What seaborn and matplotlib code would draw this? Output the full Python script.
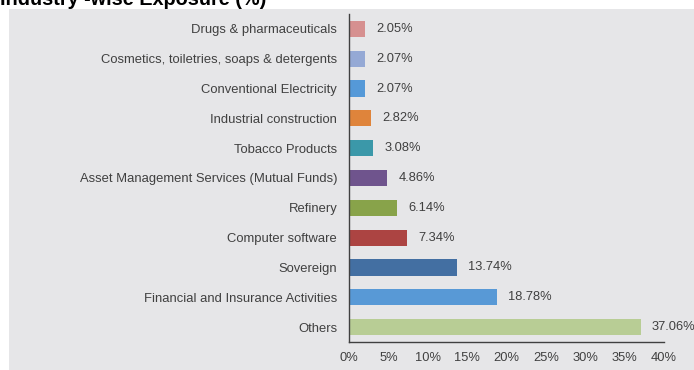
import matplotlib
matplotlib.use("Agg")
import matplotlib.pyplot as plt
import matplotlib.ticker as mticker
import seaborn as sns
import pandas as pd

categories = [
    "Drugs & pharmaceuticals",
    "Cosmetics, toiletries, soaps & detergents",
    "Conventional Electricity",
    "Industrial construction",
    "Tobacco Products",
    "Asset Management Services (Mutual Funds)",
    "Refinery",
    "Computer software",
    "Sovereign",
    "Financial and Insurance Activities",
    "Others",
]
exposure = [2.05, 2.07, 2.07, 2.82, 3.08, 4.86, 6.14, 7.34, 13.74, 18.78, 37.06]
bar_colors = [
    "#d69090", "#95a9d5", "#5599d8", "#df843b", "#3b98a9", "#6f548d",
    "#88a34a", "#ac4442", "#436fa2", "#5899d6", "#b8cd95",
]
x_ticks = [0, 5, 10, 15, 20, 25, 30, 35, 40]

sns.set_theme(style="white")
plt.rcParams["font.family"] = ["Liberation Sans", "DejaVu Sans"]

panel = "#e6e6e8"
ink = "#404040"

df = pd.DataFrame({"category": categories, "exposure": exposure})

fig = plt.figure(figsize=(6.94, 3.70), dpi=100)
fig.patch.set_facecolor("white")
# grey panel behind the chart
fig.patches.append(plt.Rectangle((9 / 694, 0), 1, 1 - 9 / 370, transform=fig.transFigure,
                                 facecolor=panel, edgecolor="none", zorder=-10))

ax = fig.add_axes([349 / 694, 1 - 342 / 370, (664 - 349) / 694, (342 - 14) / 370])
ax.patch.set_alpha(0)

sns.barplot(data=df, y="category", x="exposure", hue="category", palette=bar_colors,
            order=categories, hue_order=categories, orient="h", width=0.54,
            legend=False, saturation=1, linewidth=0, ax=ax)

for patch, val in zip(ax.patches, exposure):
    y = patch.get_y() + patch.get_height() / 2
    ax.annotate(f"{val:.2f}%", xy=(val, y), xytext=(8, 0), textcoords="offset points",
                va="center", ha="left", fontsize=9.3, color=ink, annotation_clip=False)

ax.set_xlim(0, 40)
ax.set_ylim(len(categories) - 0.5, -0.5)
ax.set_xticks(x_ticks)
ax.xaxis.set_major_formatter(mticker.FuncFormatter(lambda v, p: f"{v:.0f}%"))
ax.set_xlabel("")
ax.set_ylabel("")

for side in ("top", "right"):
    ax.spines[side].set_visible(False)
for side in ("left", "bottom"):
    ax.spines[side].set_color(ink)
    ax.spines[side].set_linewidth(1.0)

ax.tick_params(axis="x", direction="out", length=4, width=1, color=ink,
               labelsize=9.3, labelcolor=ink, pad=3)
ax.tick_params(axis="y", which="major", length=0, labelsize=9.4, labelcolor=ink, pad=8.5)
ax.set_yticks([i + 0.5 for i in range(-1, len(categories))], minor=True)
ax.tick_params(axis="y", which="minor", direction="out", length=4, width=1, color=ink)

fig.text(0.0, 1 - 5 / 370, "Industry -wise Exposure (%)", fontsize=14.3, fontweight="bold",
         color="black", ha="left", va="baseline")

fig.savefig("out.png", dpi=100, facecolor=fig.get_facecolor())
